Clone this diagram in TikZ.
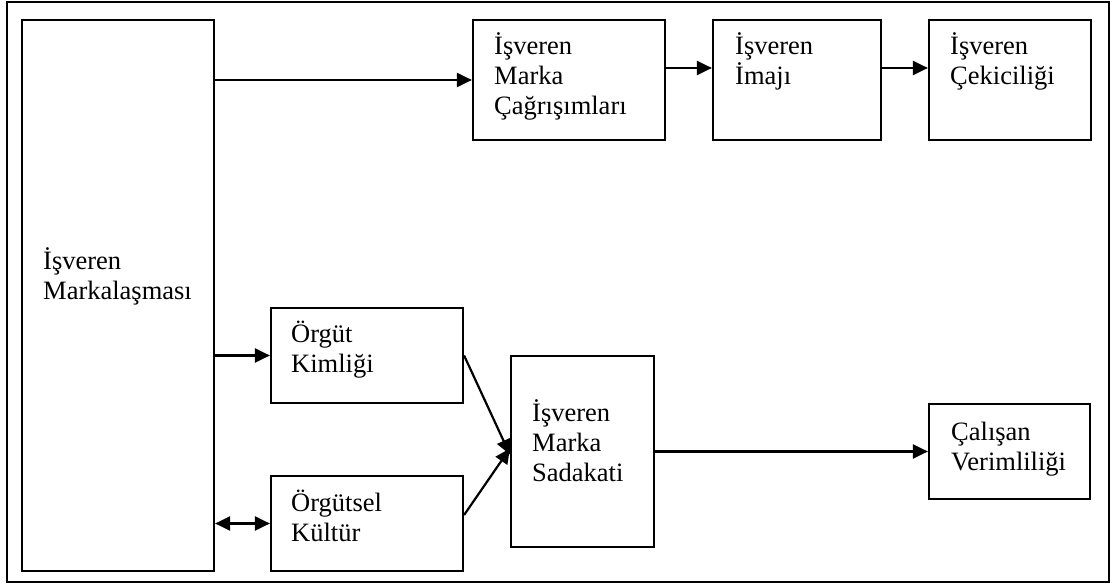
\documentclass[tikz,border=0pt]{standalone}
\usepackage{fontspec}
\setmainfont{Liberation Serif}
\usetikzlibrary{arrows.meta,fit}
\begin{document}
\begin{tikzpicture}[x=1pt,y=-1pt,
  box/.style={draw, line width=2.2pt, inner sep=0pt},
  txt/.style={anchor=base west, align=left, inner sep=0pt,
              font=\fontsize{26.5}{30}\selectfont},
  arr/.style={line width=2.2pt, -{Triangle[length=15pt,width=14pt]}},
  dblarr/.style={line width=2.2pt, {Triangle[length=15pt,width=14pt]}-{Triangle[length=15pt,width=14pt]}}]
\useasboundingbox (0,0) rectangle (1112,585);

% outer frame
\node[box, fit={(7,2) (1109,582)}] (frame) {};

% boxes
\node[box, fit={(22,20) (214,571)}]   (brand)   {};
\node[box, fit={(473,20) (665,140)}]  (assoc)   {};
\node[box, fit={(713,20) (881,140)}]  (image)   {};
\node[box, fit={(929,20) (1091,140)}] (attract) {};
\node[box, fit={(271,308) (463,403)}] (ident)   {};
\node[box, fit={(271,476) (463,571)}] (culture) {};
\node[box, fit={(511,356) (654,547)}] (loyal)   {};
\node[box, fit={(929,404) (1090,499)}] (prod)   {};

% labels (anchored at the baseline of the last line)
\node[txt] (brand-t)   at (43,300)  {İşveren\\Markalaşması};
\node[txt] (assoc-t)   at (494,115) {İşveren\\Marka\\Çağrışımları};
\node[txt] (image-t)   at (735,85)  {İşveren\\İmajı};
\node[txt] (attract-t) at (950,85)  {İşveren\\Çekiciliği};
\node[txt] (ident-t)   at (291,373) {Örgüt\\Kimliği};
\node[txt] (culture-t) at (291,541) {Örgütsel\\Kültür};
\node[txt] (loyal-t)   at (532,482) {İşveren\\Marka\\Sadakati};
\node[txt] (prod-t)    at (951,470) {Çalışan\\Verimliliği};

% connectors
\draw[arr] (brand.east |- assoc.west) -- (assoc.west);
\draw[arr] (assoc.east |- 0,68) -- (image.west |- 0,68);
\draw[arr] (image.east |- 0,68) -- (attract.west |- 0,68);
\draw[arr] (brand.east |- ident.west) -- (ident.west);
\draw[dblarr] (brand.east |- culture.west) -- (culture.west);
\draw[arr] (ident.east) -- ([yshift=-3pt]loyal.west);
\draw[arr] (culture.east |- 0,515) -- ([yshift=3pt]loyal.west);
\draw[arr] (loyal.east) -- (prod.west);
\end{tikzpicture}
\end{document}
